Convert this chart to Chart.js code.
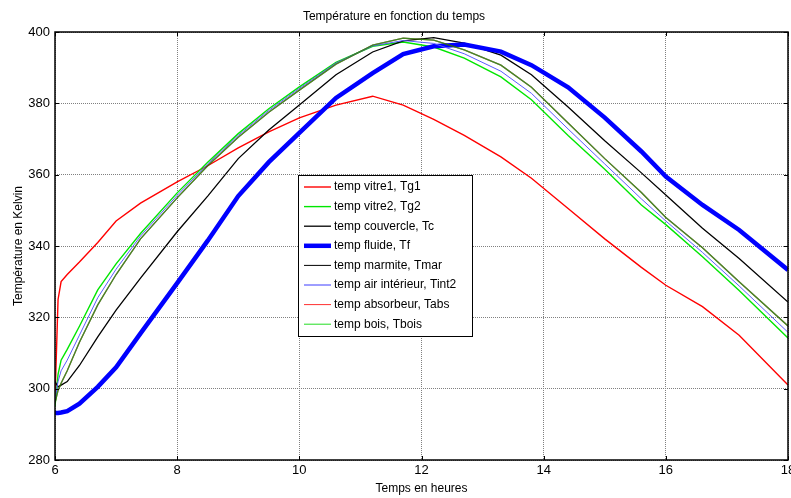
<!DOCTYPE html>
<html>
<head>
<meta charset="utf-8">
<script src="https://cdn.jsdelivr.net/npm/chart.js@4.4.0/dist/chart.umd.min.js"></script>
<style>
  html, body { margin: 0; padding: 0; background: #fff; }
  #wrap { width: 791px; height: 498px; }
</style>
</head>
<body>
<div id="wrap"><canvas id="chart" width="791" height="498"></canvas></div>
<script>
// Time axis (hours) shared by all series
const hours = [6, 6.05, 6.1, 6.2, 6.4, 6.7, 7, 7.4, 8, 8.5, 9, 9.5, 10, 10.6, 11.2, 11.7, 12.2, 12.7, 13.3, 13.8, 14.4, 15, 15.6, 16, 16.6, 17.2, 18];

// Temperatures in Kelvin
const tg1 = [297, 325, 330, 332, 335.5, 341, 347, 352, 358, 362.5, 367.5, 372, 375.9, 379.5, 382, 379.5, 375.5, 371, 365, 359, 350.5, 342, 334, 329, 323, 315, 301];
const tg2 = [295, 304, 308, 311, 317.5, 327.7, 335, 343.5, 354.9, 363.5, 371.5, 378.5, 384.6, 391.5, 396, 397.2, 395.8, 392.7, 387.4, 381, 371, 361.5, 351.5, 346, 337, 327.5, 314.2];
const tc = [302, 300.5, 301, 302, 306.5, 314.5, 322, 331, 344, 354, 364.5, 372.5, 379.5, 388, 394.4, 397.5, 398.4, 396.9, 393.5, 388, 379, 369.5, 360.5, 354.3, 345, 336.5, 324.3];
const tf = [293.2, 293.2, 293.3, 293.7, 295.8, 300.5, 306, 315.5, 329.6, 341.5, 354, 363.5, 371.7, 381.5, 388.5, 393.8, 396, 396.5, 394.5, 390.7, 384.5, 376, 366.5, 359.5, 351.5, 344.5, 333.3];
const tmar = [296, 299.5, 301.5, 305, 313, 323.5, 332, 342, 353.5, 362.5, 370.5, 377.5, 383.7, 391, 396.3, 398.3, 397.7, 395, 390.7, 384.5, 374.5, 364.5, 355, 348, 339.5, 330, 317.6];
const tint2 = [297, 302, 305, 308, 315, 325.5, 333.5, 342.8, 354.2, 363, 371, 378, 384.2, 391.3, 396.1, 397.6, 396.8, 393.9, 389, 382.8, 372.8, 363, 353.2, 347, 338.2, 328.8, 315.8];
const tabs = [296, 299.5, 301.5, 305, 313, 323.5, 332, 342, 353.5, 362.5, 370.5, 377.5, 383.7, 391, 396.3, 398.3, 397.7, 395, 390.7, 384.5, 374.5, 364.5, 355, 348, 339.5, 330, 317.6];
const tbois = [296, 299.5, 301.5, 305, 313, 323.5, 332, 342, 353.5, 362.5, 370.5, 377.5, 383.7, 391, 396.3, 398.3, 397.7, 395, 390.7, 384.5, 374.5, 364.5, 355, 348, 339.5, 330, 317.6];

const seriesLabels = ['temp vitre1, Tg1', 'temp vitre2, Tg2', 'temp couvercle, Tc', 'temp fluide, Tf',
  'temp marmite, Tmar', 'temp air intérieur, Tint2', 'temp absorbeur, Tabs', 'temp bois, Tbois'];
const seriesData = [tg1, tg2, tc, tf, tmar, tint2, tabs, tbois];

// line colours on the plot (the last three overlap into an olive line)
const plotColors = ['#ff0000', '#00e600', '#000000', '#0000ff', 'rgba(0,0,0,0.5)', '#5a5aff', 'rgba(255,0,0,0.35)', 'rgba(0,170,0,0.6)'];
// colours shown in the legend
const legendColors = ['#ff0000', '#00e600', '#000000', '#0000ff', '#000000', '#3c3cff', '#ff3030', '#22dd22'];
const lineWidths = [1.4, 1.4, 1.3, 4.5, 1.3, 1, 1.3, 1.3];
const legendWidths = [1.4, 1.4, 1.3, 4.5, 1, 1, 1, 1];

const yTicks = [280, 300, 320, 340, 360, 380, 400];
const xTicks = [6, 8, 10, 12, 14, 16, 18];

const FONT = 'Arial, "Liberation Sans", sans-serif';

function toPoints(values) {
    return hours.map((h, i) => ({ x: h, y: values[i] }));
}

const datasets = seriesData.map((values, i) => ({
    label: seriesLabels[i],
    data: toPoints(values),
    borderColor: plotColors[i],
    backgroundColor: plotColors[i],
    borderWidth: lineWidths[i],
    pointRadius: 0,
    tension: 0,
    fill: false,
    order: seriesData.length - i // later series drawn on top, like matlab
}));

// frame round the plot with inward tick marks
const framePlugin = {
    id: 'frame',
    afterDatasetsDraw(chart) {
        const { ctx, chartArea: a, scales } = chart;
        ctx.save();
        ctx.strokeStyle = '#000';
        ctx.lineWidth = 1;
        ctx.beginPath();
        xTicks.forEach(v => {
            const px = Math.round(scales.x.getPixelForValue(v)) + 0.5;
            ctx.moveTo(px, a.bottom); ctx.lineTo(px, a.bottom - 4);
            ctx.moveTo(px, a.top); ctx.lineTo(px, a.top + 4);
        });
        yTicks.forEach(v => {
            const py = Math.round(scales.y.getPixelForValue(v)) + 0.5;
            ctx.moveTo(a.left, py); ctx.lineTo(a.left + 4, py);
            ctx.moveTo(a.right, py); ctx.lineTo(a.right - 4, py);
        });
        ctx.stroke();
        ctx.lineWidth = 1.5;
        ctx.strokeRect(a.left, a.top, a.right - a.left, a.bottom - a.top);
        ctx.restore();
    }
};

// legend box drawn inside the plot, as in the figure
const boxLegend = {
    id: 'boxLegend',
    afterDraw(chart) {
        const ctx = chart.ctx;
        const x0 = 298, y0 = 175, w = 174, h = 161, rowH = 19.6;
        ctx.save();
        ctx.fillStyle = '#fff';
        ctx.fillRect(x0, y0, w, h);
        ctx.strokeStyle = '#000';
        ctx.lineWidth = 1;
        ctx.strokeRect(x0 + 0.5, y0 + 0.5, w, h);
        ctx.font = '12px ' + FONT;
        ctx.textBaseline = 'middle';
        ctx.fillStyle = '#000';
        seriesLabels.forEach((label, i) => {
            const y = y0 + 12 + i * rowH;
            ctx.beginPath();
            ctx.strokeStyle = legendColors[i];
            ctx.lineWidth = legendWidths[i];
            ctx.moveTo(x0 + 6, y);
            ctx.lineTo(x0 + 33, y);
            ctx.stroke();
            ctx.fillText(label, x0 + 36, y);
        });
        ctx.restore();
    }
};

new Chart(document.getElementById('chart'), {
    type: 'line',
    data: { datasets: datasets },
    options: {
        responsive: false,
        animation: false,
        layout: { padding: { left: 0, right: 3, top: 0, bottom: 0 } },
        plugins: {
            legend: { display: false },
            tooltip: { enabled: false },
            title: {
                display: true,
                text: 'Température en fonction du temps',
                color: '#000',
                font: { family: FONT, size: 12, weight: 'normal' },
                padding: { top: 9, bottom: 8.6 }
            }
        },
        scales: {
            x: {
                type: 'linear',
                min: 6,
                max: 18,
                afterBuildTicks(scale) { scale.ticks = xTicks.map(v => ({ value: v })); },
                ticks: { color: '#000', font: { family: FONT, size: 13 }, padding: 3, maxRotation: 0 },
                grid: { color: '#808080', drawTicks: false },
                border: { display: false, dash: [1, 1] },
                title: {
                    display: true,
                    text: 'Temps en heures',
                    color: '#000',
                    font: { family: FONT, size: 12 },
                    padding: { top: 2, bottom: 2 }
                },
                afterFit(scale) {
                    scale.height = 38;
                    scale.paddingLeft = 0;
                    scale.paddingRight = 0;
                }
            },
            y: {
                min: 280,
                max: 400,
                afterBuildTicks(scale) { scale.ticks = yTicks.map(v => ({ value: v })); },
                ticks: { color: '#000', font: { family: FONT, size: 13 }, padding: 5 },
                grid: { color: '#808080', drawTicks: false },
                border: { display: false, dash: [1, 1] },
                title: {
                    display: true,
                    text: 'Température en Kelvin',
                    color: '#000',
                    font: { family: FONT, size: 12 },
                    padding: { top: 11, bottom: 11 }
                },
                afterFit(scale) {
                    scale.width = 55;
                    scale.paddingTop = 0;
                    scale.paddingBottom = 0;
                }
            }
        }
    },
    plugins: [framePlugin, boxLegend]
});
</script>
</body>
</html>
